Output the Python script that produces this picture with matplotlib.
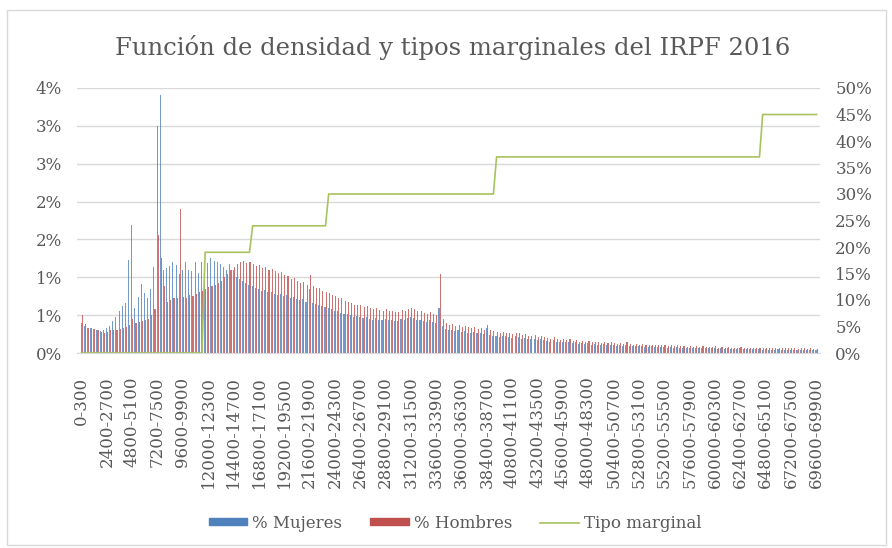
import matplotlib
matplotlib.use('Agg')
import matplotlib.pyplot as plt
import numpy as np
from matplotlib.patches import Patch, Rectangle
from matplotlib.lines import Line2D

plt.rcParams['font.family'] = ['DejaVu Serif']
plt.rcParams['text.color'] = '#595959'

# tramos de 300 euros: 0-300 ... 69600-69900
ancho_tramo = 300
tramos = [f"{lo}-{lo + ancho_tramo}" for lo in range(0, 69900, ancho_tramo)]

# % Mujeres (en %)
mujeres = [
    0.40, 0.36, 0.33, 0.33, 0.32, 0.30, 0.29, 0.31,
    0.33, 0.36, 0.42, 0.48, 0.55, 0.62, 0.66, 1.23,
    1.69, 0.60, 0.74, 0.91, 0.79, 0.73, 0.85, 1.14,
    3.00, 3.41, 1.10, 1.12, 1.15, 1.20, 1.16, 1.05,
    1.09, 1.20, 1.10, 1.08, 1.20, 1.06, 1.20, 1.12,
    1.19, 1.26, 1.22, 1.20, 1.18, 1.13, 1.09, 1.17,
    1.10, 1.00, 0.98, 0.95, 0.92, 0.90, 0.88, 0.86,
    0.84, 0.82, 0.83, 0.80, 0.81, 0.78, 0.77, 0.78,
    0.75, 0.76, 0.73, 0.74, 0.71, 0.70, 0.71, 0.68,
    0.85, 0.66, 0.65, 0.64, 0.62, 0.61, 0.59, 0.58,
    0.56, 0.55, 0.53, 0.52, 0.51, 0.50, 0.48, 0.49,
    0.47, 0.46, 0.47, 0.45, 0.44, 0.46, 0.44, 0.43,
    0.45, 0.43, 0.44, 0.42, 0.42, 0.45, 0.43, 0.46,
    0.48, 0.46, 0.44, 0.43, 0.42, 0.41, 0.43, 0.41,
    0.40, 0.60, 0.36, 0.32, 0.30, 0.31, 0.29, 0.30,
    0.28, 0.29, 0.27, 0.27, 0.28, 0.26, 0.27, 0.25,
    0.33, 0.24, 0.23, 0.22, 0.21, 0.23, 0.22, 0.21,
    0.20, 0.22, 0.21, 0.19, 0.20, 0.18, 0.18, 0.19,
    0.17, 0.18, 0.17, 0.16, 0.15, 0.17, 0.14, 0.14,
    0.15, 0.14, 0.15, 0.13, 0.14, 0.12, 0.13, 0.12,
    0.13, 0.11, 0.12, 0.11, 0.10, 0.12, 0.10, 0.11,
    0.10, 0.09, 0.10, 0.09, 0.11, 0.09, 0.09, 0.09,
    0.09, 0.09, 0.08, 0.08, 0.09, 0.08, 0.08, 0.08,
    0.08, 0.07, 0.08, 0.07, 0.08, 0.07, 0.07, 0.06,
    0.07, 0.06, 0.07, 0.06, 0.07, 0.06, 0.06, 0.06,
    0.07, 0.05, 0.06, 0.05, 0.06, 0.05, 0.05, 0.05,
    0.06, 0.05, 0.05, 0.05, 0.05, 0.05, 0.05, 0.04,
    0.05, 0.04, 0.04, 0.04, 0.05, 0.04, 0.04, 0.04,
    0.04, 0.04, 0.04, 0.04, 0.04, 0.04, 0.04, 0.04,
    0.04,
]

# % Hombres (en %)
hombres = [
    0.50, 0.38, 0.33, 0.33, 0.32, 0.30, 0.28, 0.27,
    0.28, 0.30, 0.30, 0.31, 0.32, 0.33, 0.35, 0.37,
    0.45, 0.40, 0.41, 0.42, 0.44, 0.45, 0.50, 0.58,
    1.56, 1.25, 0.88, 0.68, 0.70, 0.72, 0.72, 1.90,
    0.74, 0.73, 0.76, 0.75, 0.78, 0.80, 0.82, 0.85,
    0.87, 0.88, 0.90, 0.92, 0.95, 1.00, 1.05, 1.10,
    1.14, 1.18, 1.20, 1.21, 1.19, 1.20, 1.17, 1.15,
    1.16, 1.12, 1.13, 1.10, 1.11, 1.08, 1.06, 1.07,
    1.03, 1.02, 0.98, 0.99, 0.95, 0.93, 0.94, 0.90,
    1.03, 0.88, 0.86, 0.86, 0.82, 0.80, 0.79, 0.76,
    0.75, 0.73, 0.72, 0.69, 0.68, 0.66, 0.63, 0.64,
    0.63, 0.61, 0.62, 0.59, 0.58, 0.60, 0.57, 0.56,
    0.58, 0.55, 0.56, 0.54, 0.54, 0.57, 0.55, 0.58,
    0.60, 0.58, 0.56, 0.55, 0.53, 0.52, 0.54, 0.52,
    0.50, 1.05, 0.45, 0.40, 0.37, 0.38, 0.36, 0.37,
    0.35, 0.36, 0.34, 0.33, 0.34, 0.32, 0.33, 0.31,
    0.37, 0.30, 0.29, 0.28, 0.26, 0.28, 0.27, 0.26,
    0.25, 0.27, 0.26, 0.24, 0.25, 0.23, 0.22, 0.24,
    0.21, 0.22, 0.21, 0.20, 0.19, 0.21, 0.18, 0.17,
    0.18, 0.17, 0.19, 0.16, 0.17, 0.15, 0.16, 0.15,
    0.16, 0.14, 0.15, 0.14, 0.13, 0.15, 0.13, 0.14,
    0.13, 0.12, 0.13, 0.12, 0.14, 0.12, 0.11, 0.12,
    0.11, 0.12, 0.11, 0.10, 0.11, 0.10, 0.11, 0.10,
    0.10, 0.09, 0.10, 0.09, 0.11, 0.09, 0.09, 0.08,
    0.09, 0.08, 0.09, 0.08, 0.09, 0.08, 0.08, 0.08,
    0.09, 0.07, 0.08, 0.07, 0.08, 0.07, 0.07, 0.07,
    0.08, 0.07, 0.07, 0.06, 0.07, 0.06, 0.07, 0.06,
    0.07, 0.06, 0.06, 0.06, 0.07, 0.06, 0.06, 0.06,
    0.06, 0.06, 0.05, 0.06, 0.06, 0.05, 0.06, 0.05,
    0.05,
]

# tipo marginal: desde que tramo (euros) se aplica cada tipo (%)
tipo_desde = [0, 11700, 16200, 23400, 39300, 64500]
tipo_valor = [0, 19, 24, 30, 37, 45]

izq_ticks = [0, 0.5, 1.0, 1.5, 2.0, 2.5, 3.0, 3.5]
izq_labels = ['0%', '1%', '1%', '2%', '2%', '3%', '3%', '4%']
der_ticks = [0, 5, 10, 15, 20, 25, 30, 35, 40, 45, 50]

c_muj = '#4F81BD'
c_hom = '#C0504D'
c_tipo = '#A8C35E'
c_grid = '#D9D9D9'
c_txt = '#595959'

n = len(tramos)
x = np.arange(n)
limites = np.arange(n) * ancho_tramo
tipo = np.array(tipo_valor)[np.searchsorted(tipo_desde, limites, side='right') - 1]

fig = plt.figure(figsize=(8.92, 5.48), dpi=100, facecolor='white')
ax = fig.add_axes([77 / 892, 1 - 353 / 548, (820 - 77) / 892, (353 - 88) / 548])
ax2 = ax.twinx()

w = 0.34
ax.bar(x - w / 2, mujeres, width=w, color=c_muj, alpha=0.8, linewidth=0, zorder=2)
ax.bar(x + w / 2, hombres, width=w, color=c_hom, alpha=0.8, linewidth=0, zorder=2)
ax2.plot(x, tipo, color=c_tipo, lw=1.2)

ax.set_xlim(-1.45, 233.1)
ax.set_ylim(0, 3.5)
ax2.set_ylim(0, 50)

ax.set_yticks(izq_ticks)
ax.set_yticklabels(izq_labels)
ax2.set_yticks(der_ticks)
ax2.set_yticklabels([f'{v}%' for v in der_ticks])

ax.set_xticks(x[::8])
ax.set_xticklabels(tramos[::8], rotation=90, va='top', ha='center')

# rejilla
ax.grid(axis='y', color=c_grid, lw=1.0, zorder=0)
ax.set_axisbelow(True)

for a in (ax, ax2):
    for s in a.spines.values():
        s.set_visible(False)
    a.tick_params(length=0, colors=c_txt, labelsize=12)
ax.spines['bottom'].set_visible(True)
ax.spines['bottom'].set_color(c_grid)
ax.tick_params(axis='x', pad=17)
ax.tick_params(axis='y', pad=11)
ax2.tick_params(axis='y', pad=11)

fig.text(0.507, 1 - 47 / 548, 'Función de densidad y tipos marginales del IRPF 2016',
         ha='center', va='center', fontsize=17.5, color=c_txt)

handles = [Patch(color=c_muj), Patch(color=c_hom), Line2D([], [], color=c_tipo, lw=1.2)]
fig.legend(handles, ['% Mujeres', '% Hombres', 'Tipo marginal'], loc='center',
           bbox_to_anchor=(455 / 892, 1 - 523 / 548), ncol=3, frameon=False,
           fontsize=12, handlelength=2.3, handleheight=0.3, handletextpad=0.3,
           columnspacing=1.7, labelcolor=c_txt)

# marco del grafico
fig.patches.append(Rectangle((6.7 / 892, 3 / 548), 879 / 892, 535 / 548,
                             transform=fig.transFigure, fill=False,
                             edgecolor=c_grid, lw=1.0))

plt.savefig('out.png', dpi=100)
